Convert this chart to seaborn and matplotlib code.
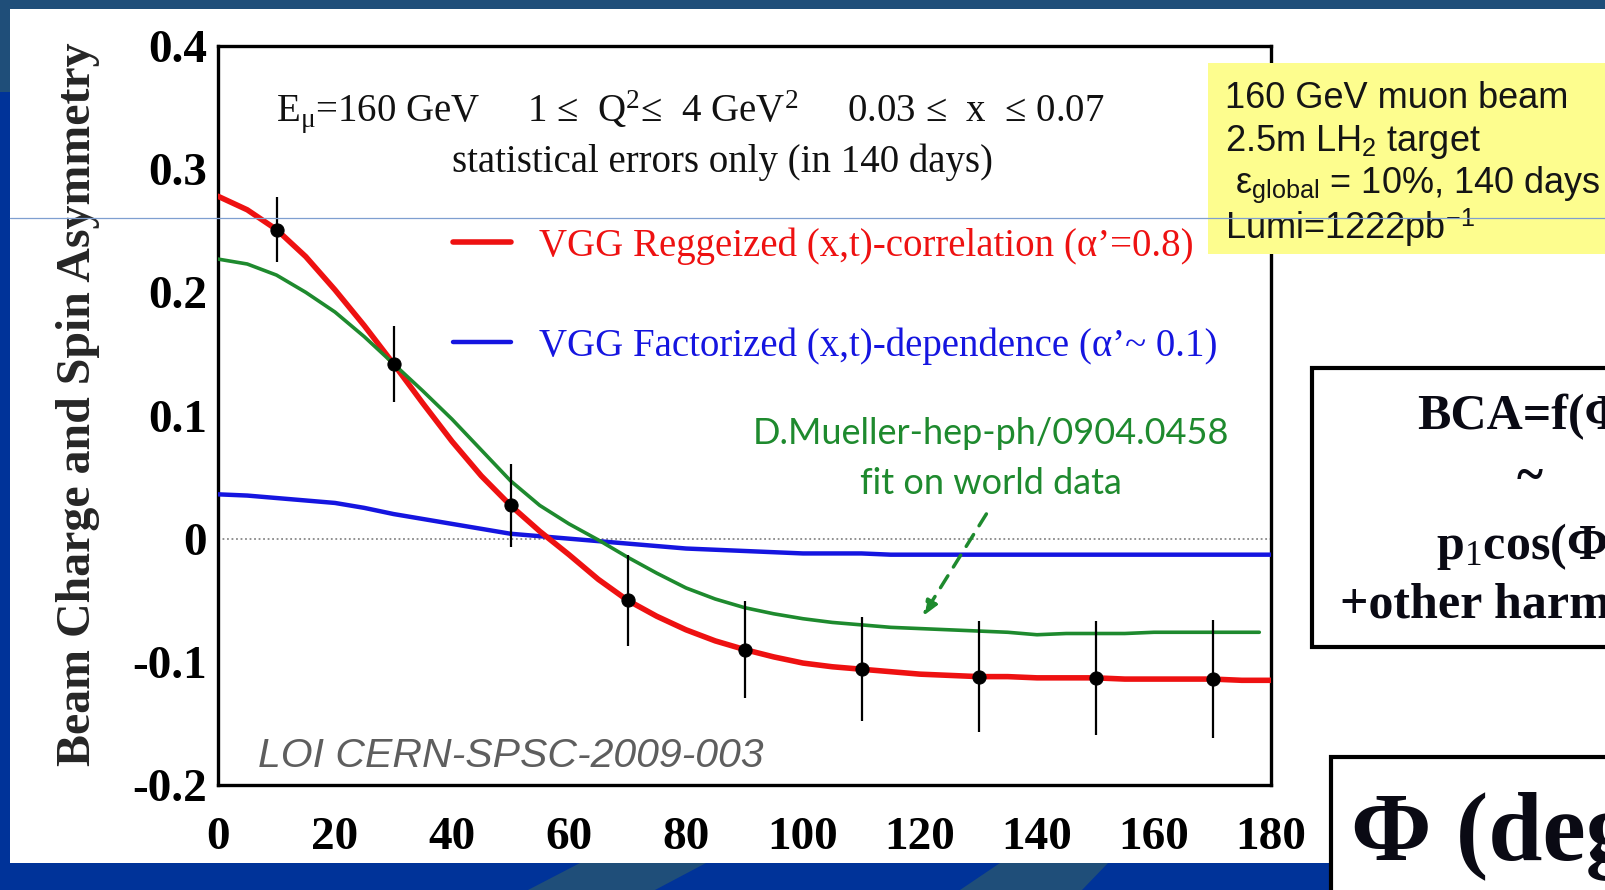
import numpy as np
import pandas as pd
import matplotlib
matplotlib.use("Agg")
import matplotlib.pyplot as plt
from matplotlib.patches import Rectangle, Polygon
import seaborn as sns

# curves (phi in degrees)
phi_curve = [0, 5, 10, 15, 20, 25, 30, 35, 40, 45, 50, 55, 60, 65, 70, 75, 80, 85, 90,
             95, 100, 105, 110, 115, 120, 125, 130, 135, 140, 145, 150, 155, 160, 165, 170, 175, 180]
vgg_regge = [0.278, 0.267, 0.251, 0.229, 0.202, 0.173, 0.142, 0.110, 0.079, 0.051, 0.027, 0.006,
             -0.013, -0.033, -0.050, -0.063, -0.074, -0.083, -0.090, -0.096, -0.101, -0.104, -0.106,
             -0.108, -0.110, -0.111, -0.112, -0.112, -0.113, -0.113, -0.113, -0.114, -0.114, -0.114,
             -0.114, -0.115, -0.115]
vgg_fact = [0.036, 0.035, 0.033, 0.031, 0.029, 0.025, 0.020, 0.016, 0.012, 0.008, 0.004, 0.002,
            0.000, -0.002, -0.004, -0.006, -0.008, -0.009, -0.010, -0.011, -0.012, -0.012, -0.012,
            -0.013, -0.013, -0.013, -0.013, -0.013, -0.013, -0.013, -0.013, -0.013, -0.013, -0.013,
            -0.013, -0.013, -0.013]

phi_mueller = [0, 5, 10, 15, 20, 25, 30, 35, 40, 45, 50, 55, 60, 65, 70, 75, 80, 85, 90,
               95, 100, 105, 110, 115, 120, 125, 130, 135, 140, 145, 150, 155, 160, 165, 170, 175, 178]
mueller_fit = [0.227, 0.223, 0.214, 0.200, 0.184, 0.164, 0.142, 0.120, 0.097, 0.072, 0.047, 0.027,
               0.012, -0.001, -0.015, -0.028, -0.040, -0.049, -0.056, -0.061, -0.065, -0.068, -0.070,
               -0.072, -0.073, -0.074, -0.075, -0.076, -0.078, -0.077, -0.077, -0.077, -0.076, -0.076,
               -0.076, -0.076, -0.076]

# projected measurement
phi_bins = [10, 30, 50, 70, 90, 110, 130, 150, 170]
bca_points = [0.251, 0.142, 0.027, -0.050, -0.090, -0.106, -0.112, -0.113, -0.114]
bca_errors = [0.026, 0.031, 0.034, 0.037, 0.039, 0.042, 0.045, 0.046, 0.048]

x_ticks = [0, 20, 40, 60, 80, 100, 120, 140, 160, 180]
x_tick_labels = ["0", "20", "40", "60", "80", "100", "120", "140", "160", "180"]
y_ticks = [-0.2, -0.1, 0.0, 0.1, 0.2, 0.3, 0.4]
y_tick_labels = ["-0.2", "-0.1", "0", "0.1", "0.2", "0.3", "0.4"]

label_regge = "VGG Reggeized (x,t)-correlation (\u03b1\u2019=0.8)"
label_fact = "VGG Factorized (x,t)-dependence (\u03b1\u2019~ 0.1)"

sns.set_style("white")
plt.rcParams["font.family"] = ["Liberation Serif", "DejaVu Serif"]
plt.rcParams["mathtext.fontset"] = "custom"
plt.rcParams["mathtext.rm"] = "Liberation Serif"
plt.rcParams["mathtext.it"] = "Liberation Serif:italic"
plt.rcParams["mathtext.bf"] = "Liberation Serif:bold"
plt.rcParams["mathtext.sf"] = "Liberation Sans"

W, H = 1605, 890
RED, BLUE, GREEN = "#ee1111", "#1515e0", "#1e8a2e"
fig = plt.figure(figsize=(W / 100, H / 100), dpi=100)
fig.patch.set_facecolor("white")

# slide background
bg = fig.add_axes([0, 0, 1, 1], zorder=-2)
bg.set_xlim(0, W)
bg.set_ylim(H, 0)
bg.axis("off")
bg.add_patch(Rectangle((0, 0), W, 9, color="#1f4e79", lw=0))
bg.add_patch(Rectangle((0, 0), 10, 92, color="#1f4e79", lw=0))
bg.add_patch(Rectangle((0, 92), 10, H, color="#003399", lw=0))
bg.add_patch(Rectangle((0, 863), W, 30, color="#003399", lw=0))
bg.add_patch(Polygon([(528, 890), (580, 863), (706, 863), (655, 890)], color="#1f4e79", lw=0))
bg.add_patch(Polygon([(960, 890), (1000, 863), (1108, 863), (1082, 890)], color="#1f4e79", lw=0))

# main plot
ax = fig.add_axes([218 / W, 1 - 785 / H, 1053 / W, 739 / H])
ax.set_facecolor("white")
curves = pd.DataFrame({"phi": phi_curve, "regge": vgg_regge, "fact": vgg_fact})
mueller = pd.DataFrame({"phi": phi_mueller, "fit": mueller_fit})
points = pd.DataFrame({"phi": phi_bins, "bca": bca_points, "err": bca_errors})

ax.axhline(0, color="#888888", ls=(0, (1, 1.5)), lw=1.3, zorder=1)
sns.lineplot(data=curves, x="phi", y="fact", ax=ax, color=BLUE, lw=3.2, label=label_fact, zorder=3)
sns.lineplot(data=curves, x="phi", y="regge", ax=ax, color=RED, lw=4.0, label=label_regge, zorder=4)
sns.lineplot(data=mueller, x="phi", y="fit", ax=ax, color=GREEN, lw=2.6, zorder=5)
ax.errorbar(points["phi"], points["bca"], yerr=points["err"], fmt="none",
            ecolor="black", elinewidth=1.6, capsize=0, zorder=6)
sns.scatterplot(data=points, x="phi", y="bca", ax=ax, color="black", s=90,
                edgecolor="black", zorder=7, legend=False)

handles, labels = ax.get_legend_handles_labels()
order = [labels.index(label_regge), labels.index(label_fact)]
ax.legend([handles[i] for i in order], [labels[i] for i in order],
          loc="center left", bbox_to_anchor=(453 / W, 1 - 296 / H), bbox_transform=fig.transFigure,
          frameon=False, fontsize=28, handlelength=1.5, handletextpad=0.7, labelspacing=1.6,
          borderpad=0, borderaxespad=0, labelcolor=[RED, BLUE])

ax.set_xlim(0, 180)
ax.set_ylim(-0.2, 0.4)
ax.set_xticks(x_ticks, labels=x_tick_labels)
ax.set_xticks(np.arange(0, 181, 5), minor=True)
ax.set_yticks(y_ticks, labels=y_tick_labels)
ax.set_yticks(np.arange(-0.2, 0.401, 0.02), minor=True)
ax.tick_params(which="both", direction="in", top=False, right=False, width=2, colors="black")
ax.tick_params(which="major", length=15, labelsize=34)
ax.tick_params(which="minor", length=8)
ax.tick_params(axis="x", which="major", pad=23)
ax.tick_params(axis="y", which="major", pad=8)
for lab in ax.get_xticklabels() + ax.get_yticklabels():
    lab.set_fontweight("bold")
for sp in ax.spines.values():
    sp.set_linewidth(2.4)
    sp.set_color("black")
ax.set_xlabel("")
ax.set_ylabel("Beam Charge and Spin Asymmetry", fontsize=34.5, fontweight="bold")
ax.yaxis.set_label_coords(-0.112, 0.515)

ax.annotate("", xy=(120.2, -0.065), xytext=(131.6, 0.022),
            arrowprops=dict(arrowstyle="-|>,head_length=0.9,head_width=0.35",
                            ls=(0, (4, 3)), lw=2.5, color=GREEN))

# overlay in pixel coordinates
ov = fig.add_axes([0, 0, 1, 1], zorder=5)
ov.set_xlim(0, W)
ov.set_ylim(H, 0)
ov.axis("off")
ov.patch.set_alpha(0)

ov.text(276, 112, "E$_{\\mathrm{\u03bc}}$=160 GeV     1 \u2264  Q$^{2}$\u2264  4 GeV$^{2}$     0.03 \u2264  x  \u2264 0.07",
        fontsize=28, ha="left", va="center", color="#111111")
ov.text(722, 162, "statistical errors only (in 140 days)", fontsize=28, ha="center", va="center",
        color="#111111")
ov.text(991, 433, "D.Mueller-hep-ph/0904.0458", fontsize=26, family="Lato", ha="center",
        va="center", color=GREEN)
ov.text(991, 483, "fit on world data", fontsize=26, family="Lato", ha="center", va="center",
        color=GREEN)
ov.text(258, 756, "LOI CERN-SPSC-2009-003", fontsize=29.5, family="Liberation Sans", style="italic",
        ha="left", va="center", color="#5e5e5e")

# info box
ov.add_patch(Rectangle((1208, 63), W - 1208, 191, facecolor="#fdfd8e", edgecolor="none", zorder=2))
info_lines = ["160 GeV muon beam", "2.5m LH$_\\mathsf{2}$ target",
              " \u03b5$_\\mathsf{global}$ = 10%, 140 days", "Lumi=1222pb$^\\mathsf{-1}$"]
for i, line in enumerate(info_lines):
    ov.text(1225, 99 + 43 * i, line, fontsize=26, family="Liberation Sans", ha="left",
            va="center", color="#151515", zorder=3)

# formula box (cut by the right edge of the slide, as in the original)
ov.add_patch(Rectangle((1312, 368), 320, 279, facecolor="white", edgecolor="black", lw=3,
                       zorder=2, clip_on=False))
formula = ["BCA=f(\u03a6)", "~", "p$_\\mathrm{1}$cos(\u03a6)", "+other harmonics"]
for yy, line in zip([417, 479, 547, 606], formula):
    ov.text(1530, yy, line, fontsize=36, fontweight="bold", ha="center", va="center",
            color="#0a0a14", zorder=3, clip_on=True)

# axis title box
ov.add_patch(Rectangle((1331, 757), 300, 150, facecolor="white", edgecolor="black", lw=3,
                       zorder=2, clip_on=False))
ov.text(1351, 860, "\u03a6 (degrees)", fontsize=70, fontweight="bold", ha="left", va="baseline",
        color="#0a0a14", zorder=3, clip_on=True)

ov.axhline(218, xmin=10 / W, xmax=1, color="#7f9fd0", lw=0.9, zorder=10)

fig.savefig("out.png", dpi=100, facecolor=fig.get_facecolor())
